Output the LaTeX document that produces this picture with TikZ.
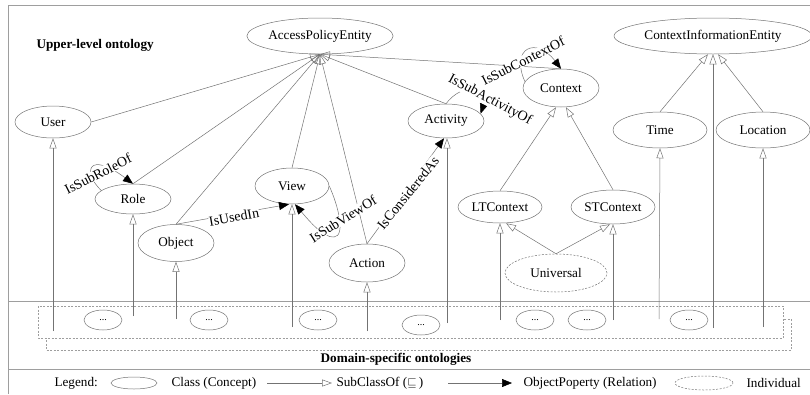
\documentclass[tikz,border=0pt]{standalone}
\usepackage{fontspec}
\setmainfont{Liberation Serif}
\usetikzlibrary{shapes.geometric,arrows.meta}
\definecolor{edgegray}{gray}{0.45}
\definecolor{framegray}{gray}{0.62}
\begin{document}
\begin{tikzpicture}[x=1pt,y=-1pt,
  every node/.style={font=\fontsize{13.2}{15}\selectfont},
  cls/.style={draw=edgegray, ellipse, inner sep=0pt, line width=0.5pt},
  indiv/.style={cls, dashed, dash pattern=on 2pt off 1.5pt},
  dots/.style={cls, minimum width=38, minimum height=20, font=\fontsize{10}{12}\selectfont},
  sub/.style={draw=edgegray, line width=0.5pt, -{Triangle[open, length=10pt, width=7pt]}},
  rel/.style={draw=edgegray, line width=0.5pt, -{Triangle[length=10pt, width=8pt, color=black]}},
  lab/.style={fill=white, inner sep=0.3pt, font=\fontsize{14}{16}\selectfont},
  frame/.style={draw=framegray, line width=0.8pt},
  dbox/.style={draw=framegray, dash pattern=on 2pt off 1.5pt, line width=0.5pt}
]
\useasboundingbox (0,0) rectangle (810,394);

% frame and separators
\draw[frame] (8,394) -- (8,5) -- (810,5);
\draw[frame] (8,301) -- (810,301);
\draw[frame] (8,369) -- (810,369);

% titles
\node[font=\fontsize{13.2}{15}\selectfont\bfseries, anchor=west] (tup) at (33,45) {Upper-level ontology};
\node[font=\fontsize{13.2}{15}\selectfont\bfseries] (tdom) at (396,359) {Domain-specific ontologies};

% domain-specific ontologies: stacked dashed boxes
\draw[dbox] (46,319) rectangle (791,350);
\draw[dbox, fill=white] (38,306) rectangle (783,338);

\node[dots] (d1) at (103,320) {...};
\node[dots] (d2) at (209,320) {...};
\node[dots] (d3) at (318,320) {...};
\node[dots] (d4) at (421,325) {...};
\node[dots] (d5) at (535,320) {...};
\node[dots] (d6) at (587,320) {...};
\node[dots] (d7) at (689,320) {...};

% upper-level classes
\node[cls, minimum width=130, minimum height=36] (ape) at (320,36) {AccessPolicyEntity};
\node[cls, minimum width=76, minimum height=32] (user) at (53,122) {User};
\node[cls, minimum width=76, minimum height=30] (role) at (133,199) {Role};
\node[cls, minimum width=76, minimum height=37] (object) at (176,243) {Object};
\node[cls, minimum width=74, minimum height=36] (view) at (292,186) {View};
\node[cls, minimum width=76, minimum height=38] (action) at (367,263) {Action};
\node[cls, minimum width=76, minimum height=34] (activity) at (446,121) {Activity};
\node[cls, minimum width=76, minimum height=38] (context) at (561,88) {Context};
\node[cls, minimum width=84, minimum height=32] (ltc) at (500,207) {LTContext};
\node[cls, minimum width=84, minimum height=34] (stc) at (613,207) {STContext};
\node[indiv, minimum width=102, minimum height=38] (univ) at (556,273) {Universal};
\node[cls, minimum width=198, minimum height=36] (cie) at (713,36) {ContextInformationEntity};
\node[cls, minimum width=94, minimum height=36] (time) at (660,130) {Time};
\node[cls, minimum width=94, minimum height=36] (loc) at (763,130) {Location};

% subclass edges towards AccessPolicyEntity
\draw[sub] (user.east) -- (ape.south);
\draw[sub] (role.north) -- (ape.south);
\draw[sub] (object.north) -- (ape.south);
\draw[sub] (view.north) -- (ape.south);
\draw[sub] (action.north) -- (ape.south);
\draw[sub] (activity.north) -- (ape.south);
\draw[sub] (context.north) -- (ape.south);

% context hierarchy
\draw[sub] (ltc.north) -- ([xshift=-5]context.south);
\draw[sub] (stc.north) -- ([xshift=5]context.south);
\draw[sub] (univ.north) -- ([xshift=6]ltc.south);
\draw[sub] (univ.north) -- ([xshift=-3]stc.south);
\draw[sub] (time.north) -- ([xshift=-5]cie.south);
\draw[sub] (loc.north) -- ([xshift=5]cie.south);

% domain classes specialising upper-level classes
\coordinate (b1) at (53,331);
\coordinate (b2) at (133,316);
\coordinate (b3) at (176,319);
\coordinate (b4) at (292,327);
\coordinate (b5) at (367,331);
\coordinate (b6) at (447,323);
\coordinate (b7) at (500,320);
\coordinate (b8) at (613,320);
\coordinate (b9) at (659,319);
\coordinate (b10) at (713,328);
\coordinate (b11) at (763,327);
\draw[sub] (b1) -- (user.south);
\draw[sub] (b2) -- (role.south);
\draw[sub] (b3) -- (object.south);
\draw[sub] (b4) -- (view.south);
\draw[sub] (b5) -- (action.south);
\draw[sub] (b6) -- ([xshift=1]activity.south);
\draw[sub] (b7) -- (ltc.south);
\draw[sub] (b8) -- (stc.south);
\draw[sub] (b9) -- (time.south);
\draw[sub] (b10) -- (cie.south);
\draw[sub] (b11) -- (loc.south);

% object properties
\draw[rel] (role.165) .. controls (82,172) and (88,150) .. (role.north);
\node[lab, rotate=27] (lrole) at (98,174) {IsSubRoleOf};

\draw[rel] (object.north) -- ([xshift=-3]view.south);
\node[lab, rotate=10] (lused) at (234,217) {IsUsedIn};

\draw[rel] (view.east) .. controls (338,205) and (346,236) .. (334,237)
  .. controls (324,238) and (310,222) .. ([xshift=3]view.south);
\node[lab, rotate=32] (lview) at (343,219) {IsSubViewOf};

\draw[rel] (action.north) -- ([xshift=-2]activity.south);
\node[lab, rotate=51] (lcons) at (408,193) {IsConsideredAs};

\draw[rel] (activity.north) .. controls (462,82) and (490,86) .. (activity.12);
\node[lab, rotate=-28] (lact) at (490,100) {IsSubActivityOf};

\draw[rel] (context.170) .. controls (510,48) and (536,36) .. (context.north);
\node[lab, rotate=27] (lctx) at (523,61) {IsSubContextOf};

% legend
\node[anchor=west] (lg) at (51,383) {Legend:};
\node[cls, minimum width=46, minimum height=12] (lgc) at (134,383) {};
\node[anchor=west] (lgct) at (168,383) {Class (Concept)};
\coordinate (ls1) at (267,383);
\coordinate (ls2) at (332,383);
\draw[sub] (ls1) -- (ls2);
\node[anchor=west] (lgst) at (333,383) {SubClassOf ($\sqsubseteq$\,)};
\coordinate (lr1) at (448,383);
\coordinate (lr2) at (512,383);
\draw[rel] (lr1) -- (lr2);
\node[anchor=west] (lgrt) at (520,383) {ObjectPoperty (Relation)};
\node[indiv, minimum width=58, minimum height=14] (lgi) at (704,383) {};
\node[anchor=west] (lgit) at (743,383) {Individual};
\end{tikzpicture}
\end{document}
